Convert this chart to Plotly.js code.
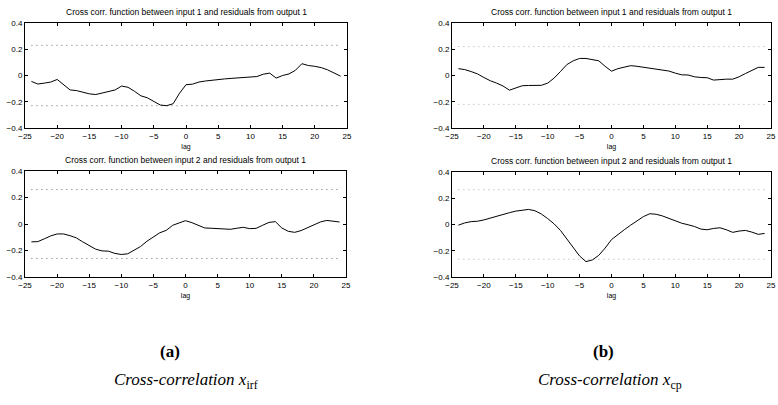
<!DOCTYPE html>
<html>
<head>
<meta charset="utf-8">
<script src="https://cdn.plot.ly/plotly-3.0.1.min.js"></script>
<style>html,body{margin:0;padding:0;background:#fff;}#chart{width:778px;height:405px;}</style>
</head>
<body>
<div id="chart"></div>
<script>
// lag axis
const lags = [-24,-23,-22,-21,-20,-19,-18,-17,-16,-15,-14,-13,-12,-11,-10,-9,-8,-7,-6,-5,-4,-3,-2,-1,0,1,2,3,4,5,6,7,8,9,10,11,12,13,14,15,16,17,18,19,20,21,22,23,24];

// (a) x_irf : input 1 / input 2 vs residuals from output 1
const irfInput1 = [-0.045,-0.065,-0.058,-0.05,-0.03,-0.07,-0.11,-0.115,-0.13,-0.14,
  -0.145,-0.135,-0.12,-0.11,-0.08,-0.09,-0.12,-0.155,-0.17,-0.2,
  -0.225,-0.23,-0.215,-0.135,-0.07,-0.066,-0.05,-0.042,-0.035,-0.032,
  -0.026,-0.022,-0.018,-0.013,-0.008,-0.008,0.01,0.018,-0.02,0.0,
  0.012,0.04,0.09,0.076,0.07,0.06,0.043,0.02,-0.005];
const irfInput2 = [-0.135,-0.133,-0.112,-0.09,-0.075,-0.075,-0.088,-0.105,-0.135,-0.165,
  -0.19,-0.203,-0.205,-0.222,-0.23,-0.225,-0.2,-0.17,-0.13,-0.096,
  -0.066,-0.048,-0.01,0.008,0.025,0.01,-0.008,-0.03,-0.032,-0.035,
  -0.04,-0.04,-0.032,-0.025,-0.035,-0.033,-0.01,0.012,0.018,-0.03,
  -0.055,-0.063,-0.05,-0.03,-0.01,0.015,0.027,0.02,0.015];

// (b) x_cp : input 1 / input 2 vs residuals from output 1
const cpInput1 = [0.052,0.045,0.03,0.012,-0.015,-0.04,-0.058,-0.08,-0.112,-0.095,
  -0.078,-0.076,-0.076,-0.075,-0.058,-0.02,0.03,0.083,0.112,0.13,
  0.13,0.122,0.112,0.07,0.033,0.052,0.065,0.075,0.07,0.063,
  0.058,0.052,0.043,0.034,0.018,0.005,0.004,-0.01,-0.015,-0.017,
  -0.035,-0.03,-0.028,-0.028,-0.01,0.015,0.04,0.062,0.062];
const cpInput2 = [-0.005,0.012,0.022,0.025,0.035,0.05,0.062,0.075,0.09,0.102,
  0.11,0.115,0.105,0.08,0.045,0.005,-0.045,-0.11,-0.175,-0.24,
  -0.283,-0.27,-0.235,-0.18,-0.115,-0.075,-0.04,-0.005,0.03,0.06,
  0.082,0.078,0.065,0.045,0.025,0.01,-0.002,-0.015,-0.035,-0.04,
  -0.03,-0.025,-0.04,-0.06,-0.05,-0.045,-0.058,-0.075,-0.068];

// confidence bounds (±)
const confBounds = [0.23, 0.26, 0.22, 0.265];

const panelTitles = [
  "Cross corr. function between input 1 and residuals from output 1",
  "Cross corr. function between input 2 and residuals from output 1",
  "Cross corr. function between input 1 and residuals from output 1",
  "Cross corr. function between input 2 and residuals from output 1"
];
const xTickVals = [-25,-20,-15,-10,-5,0,5,10,15,20,25];
const yTickVals = [-0.4,-0.2,0,0.2,0.4];
const xTitle = "lag";
const captionLetters = ["(a)", "(b)"];
const captionTexts = ["<i>Cross-correlation x</i><sub>irf</sub>", "<i>Cross-correlation x</i><sub>cp</sub>"];

const series = [irfInput1, irfInput2, cpInput1, cpInput2];
const W = 778, H = 405;
// plot boxes in px: [x0,x1,y0,y1]
const boxes = [[25,347,23,128],[25,346,171,277],[452,771,23,128],[452,771,172,277]];
const dotColors = ["#666","#666","#aaa","#aaa"];

const data = [];
const layout = {
  width: W, height: H,
  margin: {l:0,r:0,t:0,b:0},
  paper_bgcolor: "#fff", plot_bgcolor: "#fff",
  showlegend: false,
  font: {family: "Liberation Sans, Arial, sans-serif", size: 8, color: "#000"},
  annotations: []
};

series.forEach((s, i) => {
  const n = i + 1;
  const xa = n === 1 ? "x" : "x" + n;
  const ya = n === 1 ? "y" : "y" + n;
  const c = confBounds[i];
  const xEnds = [lags[0], lags[lags.length-1]];
  data.push({x: xEnds, y: [c, c], xaxis: xa, yaxis: ya, mode: "lines",
    line: {color: dotColors[i], width: 1, dash: "1px,4px"}, hoverinfo: "skip"});
  data.push({x: xEnds, y: [-c, -c], xaxis: xa, yaxis: ya, mode: "lines",
    line: {color: dotColors[i], width: 1, dash: "1px,4px"}, hoverinfo: "skip"});
  data.push({x: lags, y: s, xaxis: xa, yaxis: ya, mode: "lines",
    line: {color: "#000", width: 1}});
  const b = boxes[i];
  const axCommon = {showgrid: false, zeroline: false, showline: true, mirror: "ticks",
    linecolor: "#000", linewidth: 1, ticks: "inside", ticklen: 3, tickcolor: "#000",
    tickfont: {size: 8, color: "#000"}, fixedrange: true};
  layout["xaxis" + (n === 1 ? "" : n)] = Object.assign({}, axCommon, {
    domain: [b[0]/W, b[1]/W], anchor: ya, range: [-25, 25],
    tickmode: "array", tickvals: xTickVals,
    title: {text: xTitle, font: {size: 7, color: "#000"}, standoff: 4}
  });
  layout["yaxis" + (n === 1 ? "" : n)] = Object.assign({}, axCommon, {
    domain: [1 - b[3]/H, 1 - b[2]/H], anchor: xa, range: [-0.4, 0.4],
    tickmode: "array", tickvals: yTickVals
  });
  layout.annotations.push({text: panelTitles[i], xref: "paper", yref: "paper",
    x: (b[0] + b[1]) / 2 / W, y: 1 - (b[2] - 11) / H, xanchor: "center", yanchor: "middle",
    showarrow: false, font: {size: 8.5, color: "#000"}});
});

const capCenters = [[170, 186], [603, 610]];
captionLetters.forEach((t, i) => {
  layout.annotations.push({text: "<b>" + t + "</b>", xref: "paper", yref: "paper",
    x: capCenters[i][0] / W, y: 1 - 351 / H, xanchor: "center", yanchor: "middle",
    showarrow: false, font: {family: "Liberation Serif, Times New Roman, serif", size: 17, color: "#000"}});
  layout.annotations.push({text: captionTexts[i], xref: "paper", yref: "paper",
    x: capCenters[i][1] / W, y: 1 - 381 / H, xanchor: "center", yanchor: "middle",
    showarrow: false, font: {family: "Liberation Serif, Times New Roman, serif", size: 17, color: "#000"}});
});

Plotly.newPlot("chart", data, layout, {staticPlot: true, displayModeBar: false});
</script>
</body>
</html>
